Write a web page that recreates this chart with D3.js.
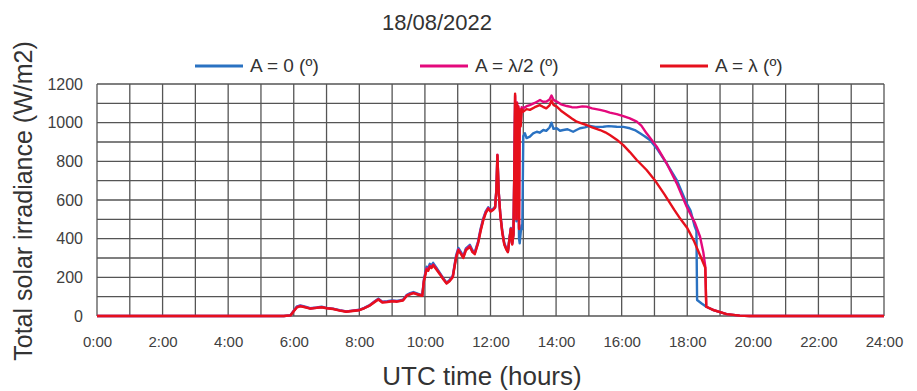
<!DOCTYPE html>
<html lang="en">
<head>
  <meta charset="utf-8">
  <title>Total solar irradiance</title>
  <script src="https://cdn.jsdelivr.net/npm/d3@7/dist/d3.min.js"></script>
  <style>
    * { margin: 0; padding: 0; }
    body { background: #fff; }
    text { font-family: "Liberation Sans", Arial, sans-serif; }
  </style>
</head>
<body>
  <div id="chart"></div>
  <script>
    // ---- data (hours UTC, W/m2) ----
    var chartTitle = "18/08/2022";
    var seriesNames = ["A = 0 (º)", "A = λ/2 (º)", "A = λ (º)"];
    var xTickHours = [0, 2, 4, 6, 8, 10, 12, 14, 16, 18, 20, 22, 24];
    var xTickLabels = ["0:00", "2:00", "4:00", "6:00", "8:00", "10:00", "12:00", "14:00", "16:00", "18:00", "20:00", "22:00", "24:00"];
    var yTicks = [0, 200, 400, 600, 800, 1000, 1200];

    // A = 0
    var hoursA0 = [0, 5.7, 5.9, 6.0, 6.1, 6.2, 6.35, 6.5, 6.7, 6.85, 7.0, 7.2, 7.4, 7.6, 7.8, 8.0, 8.15, 8.3, 8.45, 8.58, 8.7, 8.85, 9.0, 9.15, 9.33, 9.45, 9.55, 9.65, 9.8, 9.92, 9.97, 10.05, 10.1, 10.15, 10.2, 10.25, 10.35, 10.46, 10.56, 10.66, 10.75, 10.85, 10.95, 11.02, 11.1, 11.17, 11.25, 11.37, 11.45, 11.52, 11.62, 11.7, 11.78, 11.85, 11.93, 12.0, 12.08, 12.14, 12.18, 12.21, 12.25, 12.3, 12.36, 12.42, 12.48, 12.53, 12.58, 12.62, 12.66, 12.7, 12.73, 12.75, 12.77, 12.79, 12.81, 12.83, 12.85, 12.87, 12.89, 12.92, 12.95, 12.97, 13.0, 13.05, 13.1, 13.2, 13.3, 13.41, 13.5, 13.61, 13.7, 13.8, 13.86, 13.92, 14.02, 14.12, 14.22, 14.35, 14.52, 14.62, 14.73, 14.88, 15.03, 15.2, 15.44, 15.6, 15.85, 16.05, 16.25, 16.4, 16.56, 16.7, 16.86, 17.07, 17.37, 17.68, 17.98, 18.1, 18.23, 18.28, 18.3, 18.44, 18.58, 18.8, 19.2, 19.6, 19.9, 24];
    var irrA0 = [0, 0, 4, 28, 50, 55, 48, 40, 44, 48, 42, 38, 30, 24, 28, 32, 42, 55, 74, 90, 74, 76, 80, 78, 84, 110, 118, 124, 114, 108, 190, 255, 248, 270, 262, 275, 250, 222, 196, 172, 186, 208, 312, 352, 330, 310, 350, 368, 340, 330, 385, 452, 505, 540, 562, 548, 555, 566, 655, 830, 645, 525, 440, 378, 352, 335, 405, 455, 375, 425, 790, 1100, 950, 490, 900, 560, 700, 400, 376, 430, 470, 450, 930, 945, 920, 928, 945, 953, 948, 962, 958, 975, 1000, 968, 971, 958, 962, 966, 953, 962, 971, 976, 983, 978, 979, 982, 979, 978, 971, 962, 945, 930, 910, 867, 790, 703, 583, 545, 462, 440, 83, 65, 48, 30, 10, 2, 0, 0];

    // A = λ/2
    var hoursHalf = [0, 5.7, 5.9, 6.0, 6.1, 6.2, 6.35, 6.5, 6.7, 6.85, 7.0, 7.2, 7.4, 7.6, 7.8, 8.0, 8.15, 8.3, 8.45, 8.58, 8.7, 8.85, 9.0, 9.15, 9.33, 9.45, 9.55, 9.65, 9.8, 9.92, 9.97, 10.05, 10.1, 10.15, 10.2, 10.25, 10.35, 10.46, 10.56, 10.66, 10.75, 10.85, 10.95, 11.02, 11.1, 11.17, 11.25, 11.37, 11.45, 11.52, 11.62, 11.7, 11.78, 11.85, 11.93, 12.0, 12.08, 12.14, 12.18, 12.21, 12.25, 12.3, 12.36, 12.42, 12.48, 12.53, 12.58, 12.62, 12.66, 12.7, 12.73, 12.75, 12.77, 12.79, 12.81, 12.83, 12.85, 12.87, 12.89, 12.92, 12.95, 13.0, 13.1, 13.2, 13.35, 13.51, 13.6, 13.71, 13.8, 13.86, 13.92, 14.02, 14.15, 14.33, 14.48, 14.63, 14.8, 14.93, 15.1, 15.34, 15.5, 15.64, 15.85, 16.05, 16.25, 16.46, 16.6, 16.76, 17.07, 17.37, 17.68, 17.98, 18.24, 18.39, 18.49, 18.55, 18.58, 18.8, 19.2, 19.6, 19.9, 24];
    var irrHalf = [0, 0, 3, 26, 47, 52, 46, 39, 43, 46, 41, 37, 29, 23, 27, 31, 41, 53, 72, 87, 72, 74, 78, 76, 82, 107, 114, 120, 112, 106, 184, 246, 240, 260, 254, 266, 244, 218, 192, 170, 182, 204, 305, 345, 324, 304, 344, 362, 334, 324, 380, 446, 500, 535, 558, 544, 551, 562, 652, 834, 642, 522, 434, 372, 347, 332, 402, 452, 372, 422, 805, 1140, 965, 505, 1105, 605, 1085, 455, 1070, 990, 1080, 1074, 1085, 1091, 1102, 1117, 1108, 1109, 1120, 1140, 1118, 1109, 1095, 1086, 1080, 1079, 1084, 1083, 1074, 1066, 1060, 1052, 1044, 1034, 1022, 1005, 985, 945, 876, 790, 686, 566, 479, 410, 330, 255, 48, 31, 10, 2, 0, 0];

    // A = λ
    var hoursFull = [0, 5.7, 5.9, 6.0, 6.1, 6.2, 6.35, 6.5, 6.7, 6.85, 7.0, 7.2, 7.4, 7.6, 7.8, 8.0, 8.15, 8.3, 8.45, 8.58, 8.7, 8.85, 9.0, 9.15, 9.33, 9.45, 9.55, 9.65, 9.8, 9.92, 9.97, 10.05, 10.1, 10.15, 10.2, 10.25, 10.35, 10.46, 10.56, 10.66, 10.75, 10.85, 10.95, 11.02, 11.1, 11.17, 11.25, 11.37, 11.45, 11.52, 11.62, 11.7, 11.78, 11.85, 11.93, 12.0, 12.08, 12.14, 12.18, 12.21, 12.25, 12.3, 12.36, 12.42, 12.48, 12.53, 12.58, 12.62, 12.66, 12.7, 12.73, 12.75, 12.77, 12.79, 12.81, 12.83, 12.85, 12.87, 12.89, 12.92, 12.95, 13.0, 13.1, 13.2, 13.35, 13.5, 13.6, 13.7, 13.8, 13.86, 13.92, 14.02, 14.15, 14.33, 14.48, 14.63, 14.8, 14.93, 15.1, 15.34, 15.5, 15.64, 15.85, 16.05, 16.25, 16.46, 16.76, 17.0, 17.3, 17.6, 17.8, 18.0, 18.2, 18.4, 18.55, 18.58, 18.8, 19.2, 19.6, 19.9, 24];
    var irrFull = [0, 0, 3, 25, 45, 50, 45, 38, 42, 45, 40, 36, 28, 22, 26, 30, 40, 52, 70, 85, 70, 72, 76, 74, 80, 105, 112, 118, 110, 104, 180, 240, 234, 255, 248, 262, 240, 215, 190, 168, 180, 200, 300, 340, 320, 300, 340, 358, 330, 320, 375, 440, 495, 530, 555, 540, 548, 560, 650, 832, 640, 520, 430, 370, 345, 330, 400, 450, 370, 420, 800, 1150, 960, 500, 1100, 600, 1080, 450, 1060, 980, 1070, 1057, 1070, 1066, 1080, 1091, 1082, 1074, 1090, 1115, 1092, 1083, 1062, 1040, 1022, 1005, 995, 988, 976, 962, 950, 936, 912, 884, 848, 807, 755, 705, 630, 550, 500, 455, 390, 310, 250, 48, 30, 10, 2, 0, 0];

    var colors = ["#2a72c2", "#e4097c", "#e6101c"];

    // ---- layout ----
    var svgWidth = 917;
    var svgHeight = 391;
    var margin = { top: 84, right: 33, bottom: 75, left: 97 };
    var innerW = svgWidth - margin.left - margin.right;
    var innerH = svgHeight - margin.top - margin.bottom;

    var svg = d3.select("#chart")
      .append("svg")
      .attr("width", svgWidth)
      .attr("height", svgHeight);

    var x = d3.scaleLinear().domain([0, 24]).range([0, innerW]);
    var y = d3.scaleLinear().domain([0, 1200]).range([innerH, 0]);

    var g = svg.append("g")
      .attr("transform", "translate(" + margin.left + "," + margin.top + ")");

    // grid every hour / every 100 W/m2
    g.append("g")
      .selectAll("line")
      .data(d3.range(0, 25))
      .join("line")
      .attr("x1", function(d) { return x(d); })
      .attr("x2", function(d) { return x(d); })
      .attr("y1", 0)
      .attr("y2", innerH)
      .attr("stroke", "#555")
      .attr("stroke-width", 1.3);
    g.append("g")
      .selectAll("line")
      .data(d3.range(0, 1201, 100))
      .join("line")
      .attr("x1", 0)
      .attr("x2", innerW)
      .attr("y1", function(d) { return y(d); })
      .attr("y2", function(d) { return y(d); })
      .attr("stroke", "#555")
      .attr("stroke-width", 1.3);

    // axes (labels only)
    var xAxis = d3.axisBottom(x)
      .tickValues(xTickHours)
      .tickFormat(function(d, i) { return xTickLabels[i]; })
      .tickSize(0)
      .tickPadding(20);
    var xAxisG = g.append("g")
      .attr("transform", "translate(0," + innerH + ")")
      .call(xAxis);
    xAxisG.select(".domain").remove();
    xAxisG.selectAll("text")
      .attr("font-size", "15px")
      .attr("fill", "#404040");

    var yAxis = d3.axisLeft(y)
      .tickValues(yTicks)
      .tickFormat(d3.format("d"))
      .tickSize(0)
      .tickPadding(14);
    var yAxisG = g.append("g").call(yAxis);
    yAxisG.select(".domain").remove();
    yAxisG.selectAll("text")
      .attr("font-size", "16px")
      .attr("fill", "#404040");

    // series
    var series = [
      { name: seriesNames[0], hours: hoursA0, values: irrA0, color: colors[0] },
      { name: seriesNames[1], hours: hoursHalf, values: irrHalf, color: colors[1] },
      { name: seriesNames[2], hours: hoursFull, values: irrFull, color: colors[2] }
    ];

    var line = d3.line()
      .x(function(d) { return x(d[0]); })
      .y(function(d) { return y(d[1]); });

    g.selectAll("path.series")
      .data(series)
      .join("path")
      .attr("class", "series")
      .attr("d", function(s) { return line(d3.zip(s.hours, s.values)); })
      .attr("fill", "none")
      .attr("stroke", function(s) { return s.color; })
      .attr("stroke-width", 2.4)
      .attr("stroke-linejoin", "round");

    // title
    svg.append("text")
      .attr("x", 437)
      .attr("y", 30)
      .attr("text-anchor", "middle")
      .attr("font-size", "22px")
      .attr("fill", "#333")
      .text(chartTitle);

    // legend
    var legendX = [195, 420, 660];
    var legend = svg.append("g")
      .selectAll("g")
      .data(series)
      .join("g")
      .attr("transform", function(s, i) { return "translate(" + legendX[i] + ",66)"; });
    legend.append("line")
      .attr("x1", 0)
      .attr("x2", 48)
      .attr("stroke", function(s) { return s.color; })
      .attr("stroke-width", 3);
    legend.append("text")
      .attr("x", 55)
      .attr("y", 6)
      .attr("font-size", "19px")
      .attr("fill", "#333")
      .text(function(s) { return s.name; });

    // axis titles
    svg.append("text")
      .attr("x", 482)
      .attr("y", 385)
      .attr("text-anchor", "middle")
      .attr("font-size", "26px")
      .attr("fill", "#333")
      .text("UTC time (hours)");
    svg.append("text")
      .attr("transform", "translate(32," + 201 + ") rotate(-90)")
      .attr("text-anchor", "middle")
      .attr("font-size", "25px")
      .attr("fill", "#333")
      .text("Total solar irradiance (W/m2)");
  </script>
</body>
</html>
